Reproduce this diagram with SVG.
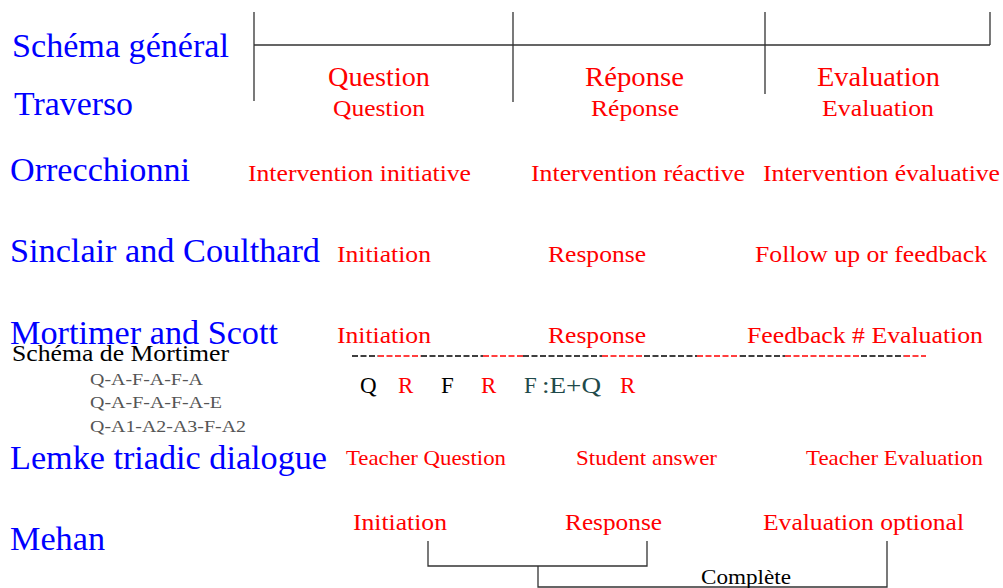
<svg xmlns="http://www.w3.org/2000/svg" width="1003" height="588" viewBox="0 0 1003 588">
<style>
text{font-family:"Liberation Serif","Times New Roman",serif}
.b{fill:#0000ff;font-size:33px}
.r{fill:#ff0000}
.k{fill:#000}
.g{fill:#555;font-size:17px}
.t{fill:#1f4a4a}
.ln{stroke:#333;stroke-width:1.3;fill:none}
.d{stroke-width:1.5;stroke-dasharray:6,2.5}
</style>
<rect width="1003" height="588" fill="#fff"/>
<g id="connectors">
<path class="ln" d="M254,45H990M254,12V101M513,12V102M765,12V94M990,12V45"/>
<path class="ln" d="M428,541V566H647V541M538,566V587H887V541"/>
<line class="d" x1="352" y1="356" x2="378" y2="356" stroke="#000"/>
<line class="d" x1="378" y1="356" x2="421" y2="356" stroke="#f00"/>
<line class="d" x1="421" y1="356" x2="483" y2="356" stroke="#000"/>
<line class="d" x1="483" y1="356" x2="523" y2="356" stroke="#f00"/>
<line class="d" x1="523" y1="356" x2="602" y2="356" stroke="#000"/>
<line class="d" x1="602" y1="356" x2="644" y2="356" stroke="#f00"/>
<line class="d" x1="644" y1="356" x2="697" y2="356" stroke="#000"/>
<line class="d" x1="697" y1="356" x2="740" y2="356" stroke="#f00"/>
<line class="d" x1="740" y1="356" x2="785" y2="356" stroke="#000"/>
<line class="d" x1="785" y1="356" x2="861" y2="356" stroke="#f00"/>
<line class="d" x1="861" y1="356" x2="904" y2="356" stroke="#000"/>
<line class="d" x1="904" y1="356" x2="926" y2="356" stroke="#f00"/>
</g>
<g id="schema-general">
<text class="b" x="12" y="57" textLength="217" lengthAdjust="spacingAndGlyphs">Schéma général</text>
<text class="r" x="328" y="86" font-size="27" textLength="102" lengthAdjust="spacingAndGlyphs">Question</text>
<text class="r" x="585" y="86" font-size="27" textLength="99" lengthAdjust="spacingAndGlyphs">Réponse</text>
<text class="r" x="817" y="86" font-size="27" textLength="123" lengthAdjust="spacingAndGlyphs">Evaluation</text>
</g>
<g id="traverso">
<text class="b" x="14" y="115" font-size="34" textLength="119" lengthAdjust="spacingAndGlyphs">Traverso</text>
<text class="r" x="333" y="116" font-size="24" textLength="92" lengthAdjust="spacingAndGlyphs">Question</text>
<text class="r" x="591" y="116" font-size="24" textLength="88" lengthAdjust="spacingAndGlyphs">Réponse</text>
<text class="r" x="822" y="116" font-size="24" textLength="112" lengthAdjust="spacingAndGlyphs">Evaluation</text>
</g>
<g id="orrecchionni">
<text class="b" x="10" y="181" textLength="180" lengthAdjust="spacingAndGlyphs">Orrecchionni</text>
<text class="r" x="248" y="181" font-size="24" textLength="223" lengthAdjust="spacingAndGlyphs">Intervention initiative</text>
<text class="r" x="531" y="181" font-size="24" textLength="214" lengthAdjust="spacingAndGlyphs">Intervention réactive</text>
<text class="r" x="763" y="181" font-size="24" textLength="237" lengthAdjust="spacingAndGlyphs">Intervention évaluative</text>
</g>
<g id="sinclair">
<text class="b" x="10" y="262" textLength="310" lengthAdjust="spacingAndGlyphs">Sinclair and Coulthard</text>
<text class="r" x="337" y="262" font-size="24" textLength="94" lengthAdjust="spacingAndGlyphs">Initiation</text>
<text class="r" x="548" y="262" font-size="24" textLength="98" lengthAdjust="spacingAndGlyphs">Response</text>
<text class="r" x="755" y="262" font-size="24" textLength="232" lengthAdjust="spacingAndGlyphs">Follow up or feedback</text>
</g>
<g id="mortimer">
<text class="b" x="10" y="344" textLength="268" lengthAdjust="spacingAndGlyphs">Mortimer and Scott</text>
<text class="r" x="337" y="343" font-size="24" textLength="94" lengthAdjust="spacingAndGlyphs">Initiation</text>
<text class="r" x="548" y="343" font-size="24" textLength="98" lengthAdjust="spacingAndGlyphs">Response</text>
<text class="r" x="747" y="343" font-size="24" textLength="236" lengthAdjust="spacingAndGlyphs">Feedback # Evaluation</text>
<text class="k" x="12" y="361" font-size="23" textLength="217" lengthAdjust="spacingAndGlyphs">Schéma de Mortimer</text>
<text class="g" x="90" y="385" textLength="113" lengthAdjust="spacingAndGlyphs">Q-A-F-A-F-A</text>
<text class="g" x="90" y="408" textLength="132" lengthAdjust="spacingAndGlyphs">Q-A-F-A-F-A-E</text>
<text class="g" x="90" y="432" textLength="156" lengthAdjust="spacingAndGlyphs">Q-A1-A2-A3-F-A2</text>
<g font-size="23">
<text class="k" x="360" y="393">Q</text>
<text class="r" x="398" y="393">R</text>
<text class="k" x="441" y="393">F</text>
<text class="r" x="481" y="393">R</text>
<text class="t" x="524" y="393">F</text>
<text class="t" x="542" y="393" textLength="59" lengthAdjust="spacingAndGlyphs">:E+Q</text>
<text class="r" x="620" y="393">R</text>
</g>
</g>
<g id="lemke">
<text class="b" x="10" y="469" textLength="317" lengthAdjust="spacingAndGlyphs">Lemke triadic dialogue</text>
<text class="r" x="346" y="465" font-size="21" textLength="160" lengthAdjust="spacingAndGlyphs">Teacher Question</text>
<text class="r" x="576" y="465" font-size="21" textLength="141" lengthAdjust="spacingAndGlyphs">Student answer</text>
<text class="r" x="806" y="465" font-size="21" textLength="177" lengthAdjust="spacingAndGlyphs">Teacher Evaluation</text>
</g>
<g id="mehan">
<text class="b" x="10" y="550" textLength="95" lengthAdjust="spacingAndGlyphs">Mehan</text>
<text class="r" x="353" y="530" font-size="24" textLength="94" lengthAdjust="spacingAndGlyphs">Initiation</text>
<text class="r" x="565" y="530" font-size="24" textLength="97" lengthAdjust="spacingAndGlyphs">Response</text>
<text class="r" x="763" y="530" font-size="24" textLength="201" lengthAdjust="spacingAndGlyphs">Evaluation optional</text>
<text class="k" x="701" y="584" font-size="20" textLength="90" lengthAdjust="spacingAndGlyphs">Complète</text>
</g>
</svg>
